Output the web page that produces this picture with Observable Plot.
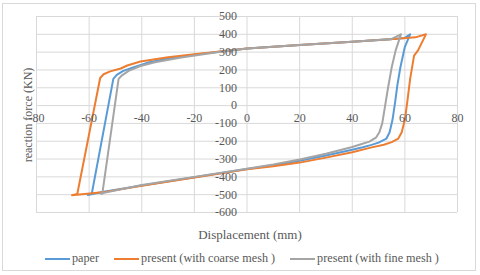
<!DOCTYPE html>
<html>
<head>
<meta charset="utf-8">
<script src="https://cdn.jsdelivr.net/npm/d3@7"></script>
<script src="https://cdn.jsdelivr.net/npm/@observablehq/plot@0.6"></script>
<style>
  html, body { margin: 0; padding: 0; background: #fff; }
  body { width: 480px; height: 275px; position: relative; overflow: hidden; font-family: "Liberation Serif", "DejaVu Serif", serif; color: #595959; }
  #frame { position: absolute; left: 2px; top: 3px; width: 474px; height: 268px; border: 1px solid #d9d9d9; box-sizing: border-box; }
  #chart { position: absolute; left: 0; top: 0; }
  #xtitle { position: absolute; left: 0; width: 500px; top: 227px; text-align: center; font-size: 13px; }
  #ytitle { position: absolute; left: 28px; top: 115px; font-size: 12px; white-space: nowrap; transform: translate(-50%, -50%) rotate(-90deg); }
  #legend { position: absolute; left: 45px; top: 251px; display: flex; align-items: center; font-size: 12.2px; white-space: nowrap; }
  .item { display: flex; align-items: center; margin-right: 15px; }
  .sw { width: 25px; height: 2px; margin-right: 2px; }
</style>
</head>
<body>
<div id="frame"></div>
<div id="chart"></div>
<div id="ytitle">reaction force (KN)</div>
<div id="xtitle">Displacement (mm)</div>
<div id="legend"></div>
<script>
// Tick values
const xTicks = [-80, -60, -40, -20, 0, 20, 40, 60, 80];
const yTicks = [-600, -500, -400, -300, -200, -100, 0, 100, 200, 300, 400, 500];

// Series names and colours
const seriesNames = ["paper", "present (with coarse mesh )", "present (with fine mesh )"];
const seriesColors = ["#5B9BD5", "#ED7D31", "#A5A5A5"];

// paper (blue)
const paperX = [62, 60, 58.3, 57.2, 56.3, 55.3, 54.2, 53, 50, 47, 44, 40, 30, 20, 10, 0, -20, -40, -55, -60.5,
  -59, -50.8, -49.5, -47, -43, -38, -30, -20, -10, 0, 20, 40, 55, 60, 62];
const paperY = [400, 330, 215, 120, 20, -80, -150, -185, -208, -222, -234, -248, -280, -310, -335, -356, -402, -448, -485, -502,
  -495, 150, 172, 195, 215, 240, 264, 285, 303, 320, 340, 358, 373, 380, 400];

// present, coarse mesh (orange)
const coarseX = [68, 65, 63.5, 62, 61, 60, 58.8, 57.5, 55, 52, 47, 40, 30, 20, 10, 0, -20, -40, -55, -66.5,
  -64.5, -55.8, -54.5, -52, -48, -45.5, -40.5, -30, -20, -12.7, 0, 20, 40, 57, 64, 68];
const coarseY = [400, 310, 280, 150, 30, -80, -150, -185, -205, -220, -236, -262, -292, -320, -340, -358, -403, -450, -487, -503,
  -496, 155, 176, 192, 208, 225, 247, 271, 288, 300, 320, 340, 358, 375, 383, 400];

// present, fine mesh (gray)
const fineX = [58.5, 56.5, 55, 53.6, 52.5, 51.4, 50.3, 49, 46.5, 43, 40, 30, 20, 10, 0, -20, -40, -55.7,
  -55, -48.8, -47.5, -45, -40.5, -35, -25, -12, 0, 20, 40, 55, 58.5];
const fineY = [400, 310, 215, 100, 0, -100, -150, -180, -202, -218, -232, -270, -302, -330, -354, -400, -446, -494,
  -495, 150, 170, 195, 222, 243, 270, 298, 320, 340, 358, 374, 400];

const toRows = (xs, ys) => xs.map((x, i) => ({x, y: ys[i]}));
const paper = toRows(paperX, paperY);
const coarse = toRows(coarseX, coarseY);
const fine = toRows(fineX, fineY);

const lineOpts = (c) => ({x: "x", y: "y", stroke: c, strokeWidth: 2, strokeLinejoin: "round", strokeLinecap: "round"});

const chart = Plot.plot({
  width: 480,
  height: 222,
  marginLeft: 36,
  marginRight: 23,
  marginTop: 16,
  marginBottom: 10,
  x: {domain: [-80, 80], axis: null},
  y: {domain: [-600, 500], axis: null},
  style: {fontFamily: "Liberation Serif, DejaVu Serif, serif", fontSize: "12px", color: "#595959", background: "transparent", overflow: "visible"},
  marks: [
    Plot.gridX(xTicks, {stroke: "#d9d9d9", strokeOpacity: 1, strokeWidth: 1}),
    Plot.gridY(yTicks, {stroke: "#d9d9d9", strokeOpacity: 1, strokeWidth: 1}),
    Plot.line(paper, lineOpts(seriesColors[0])),
    Plot.line(coarse, lineOpts(seriesColors[1])),
    Plot.line(fine, lineOpts(seriesColors[2])),
    Plot.text(xTicks, {x: d => d, y: 0, dy: 13, text: d => String(d), textAnchor: "middle", fill: "#595959"}),
    Plot.text(yTicks, {x: 0, y: d => d, dx: -10, text: d => String(d), textAnchor: "end", fill: "#595959"})
  ]
});
document.getElementById("chart").appendChild(chart);

const legend = document.getElementById("legend");
seriesNames.forEach((name, i) => {
  const item = document.createElement("div");
  item.className = "item";
  const sw = document.createElement("div");
  sw.className = "sw";
  sw.style.background = seriesColors[i];
  const label = document.createElement("span");
  label.textContent = name;
  item.appendChild(sw);
  item.appendChild(label);
  legend.appendChild(item);
});
</script>
</body>
</html>
